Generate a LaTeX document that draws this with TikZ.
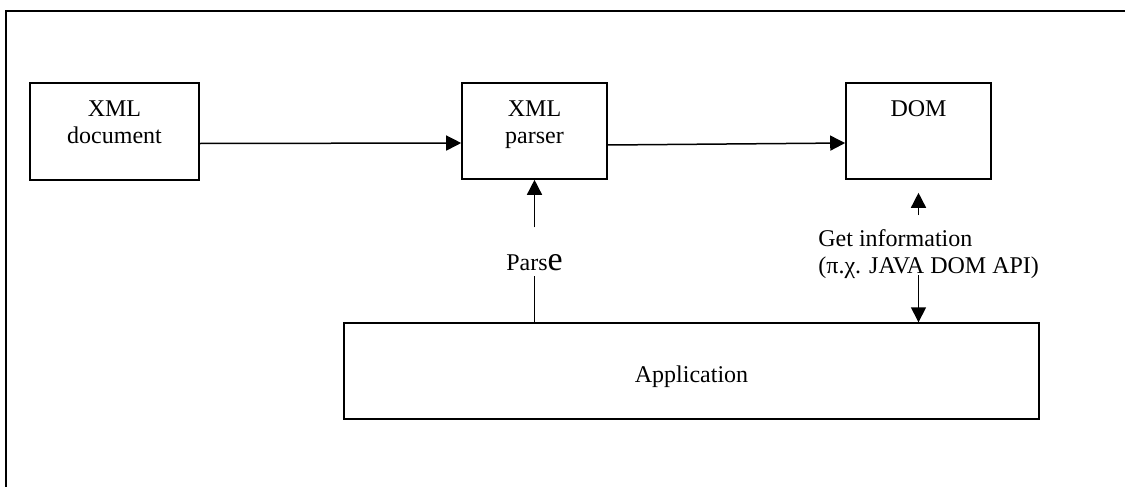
\documentclass[tikz,border=0pt]{standalone}
\usepackage{fontspec}
\setmainfont{Liberation Serif}
\usetikzlibrary{arrows.meta,positioning}

\begin{document}
\begin{tikzpicture}[x=0.5pt,y=-0.5pt,
  font=\fontsize{12pt}{13.8pt}\selectfont,
  block/.style={draw, line width=0.8pt, inner sep=0pt},
  boxtext/.style={inner sep=0pt, align=center},
  arrow/.style={-{Triangle[length=7.5pt,width=7.5pt]}, line width=0.75pt},
  link/.style={line width=0.75pt}]
\clip (0,0) rectangle (1125,487);
% Outer frame (only top and left edges show)
\draw[line width=1pt] (6,487) -- (6,11) -- (1125,11);

% Boxes of the top row
\node[block, minimum width=84.5pt, minimum height=48.5pt] (doc) at (114.5,131.5) {};
\node[boxtext, below=9pt of doc.north] (doctext) {XML\\document};
\node[block, minimum width=72.5pt, minimum height=48pt] (parser) at (534.5,131) {};
\node[boxtext, below=9pt of parser.north] (parsertext) {XML\\parser};
\node[block, minimum width=72.5pt, minimum height=48pt] (dom) at (918.5,131) {};
\node[boxtext, below=9pt of dom.north] (domtext) {DOM};

% Application box
\node[block, line width=0.7pt, minimum width=347.5pt, minimum height=48pt] (app) at (691.5,371) {};
\node[boxtext] (apptext) at ([yshift=-3pt]app.center) {Application};

% Flow along the top row
\draw[arrow] ([yshift=-6pt]doc.east) -- ([yshift=-6pt]parser.west);
\draw[arrow] ([yshift=-7pt]parser.east) -- ([yshift=-6pt]dom.west);

% Parse call
\node[inner sep=2pt] (parselbl) at (534.5,263) {Pars{\fontsize{17pt}{17pt}\selectfont e}};
\draw[link] (app.north -| parselbl.south) -- (parselbl.south);
\draw[arrow] ([yshift=11.5pt]parselbl.north) -- (parser.south);

% Get information from the DOM
\node[inner sep=0pt, anchor=north west, align=left] (infolbl) at (818,229) {Get information\\(π.χ. JAVA DOM API)};
\draw[arrow, shorten >=6.5pt] ([yshift=7pt]infolbl.north -| dom.south) -- (dom.south);
\draw[arrow] ([yshift=-23pt]infolbl.north -| dom.south) -- (app.north -| dom.south);
\end{tikzpicture}
\end{document}
